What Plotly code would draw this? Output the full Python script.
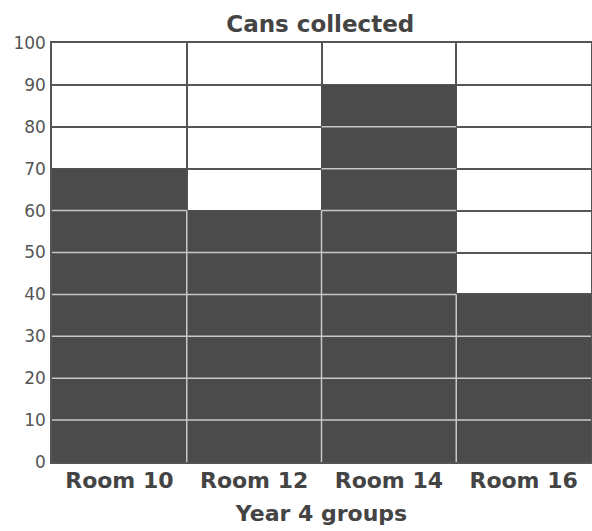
import plotly.graph_objects as go

categories = ["Room 10", "Room 12", "Room 14", "Room 16"]
cans = [70, 60, 90, 40]
y_ticks = list(range(0, 101, 10))

n = len(categories)
xs = list(range(n))

fig = go.Figure()
fig.add_trace(go.Bar(x=xs, y=cans, width=1, marker=dict(color="#4b4b4b", line=dict(width=0)),
                     hoverinfo="skip", showlegend=False))

# light grid lines over the dark bars
lx, ly = [], []
for i, v in enumerate(cans):
    for t in y_ticks:
        if 0 < t < v:
            lx += [i - 0.5, i + 0.5, None]
            ly += [t, t, None]
for i in range(n - 1):
    top = min(cans[i], cans[i + 1])
    lx += [i + 0.5, i + 0.5, None]
    ly += [0, top, None]
fig.add_trace(go.Scatter(x=lx, y=ly, mode="lines", line=dict(color="#c8c8c8", width=1.5),
                         hoverinfo="skip", showlegend=False))

fig.update_layout(
    width=592, height=531,
    margin=dict(l=52, r=1, t=43, b=69),
    paper_bgcolor="white", plot_bgcolor="white",
    font=dict(family="DejaVu Sans", color="#444"),
    title=dict(text="<b>Cans collected</b>", x=0.541, xanchor="center", y=0.954, yanchor="middle",
               font=dict(size=23, color="#444")),
    xaxis=dict(range=[-0.5, n - 0.5], tickvals=xs, ticktext=[f"<b>{c}</b>" for c in categories],
               tickfont=dict(size=22, color="#444"), showgrid=False, zeroline=False,
               showline=True, linecolor="#555", linewidth=1.5, mirror=True, ticks="",
               automargin=False, ticklabelstandoff=-2,
               minor=dict(tickvals=[i + 0.5 for i in range(n - 1)], showgrid=True,
                          gridcolor="#555", gridwidth=1.5),
               title=dict(text="<b>Year 4 groups</b>", font=dict(size=22, color="#444"), standoff=13)),
    yaxis=dict(range=[0, 100], tickvals=y_ticks, tickfont=dict(size=17, color="#555"),
               showgrid=True, gridcolor="#555", gridwidth=1.5, zeroline=False,
               showline=True, linecolor="#555", linewidth=1.5, mirror=True, ticks="",
               automargin=False, ticklabelstandoff=1),
)

fig.write_html("out.html", config={"displayModeBar": False},
               post_script="document.body.style.margin='0';document.body.style.overflow='hidden';")
